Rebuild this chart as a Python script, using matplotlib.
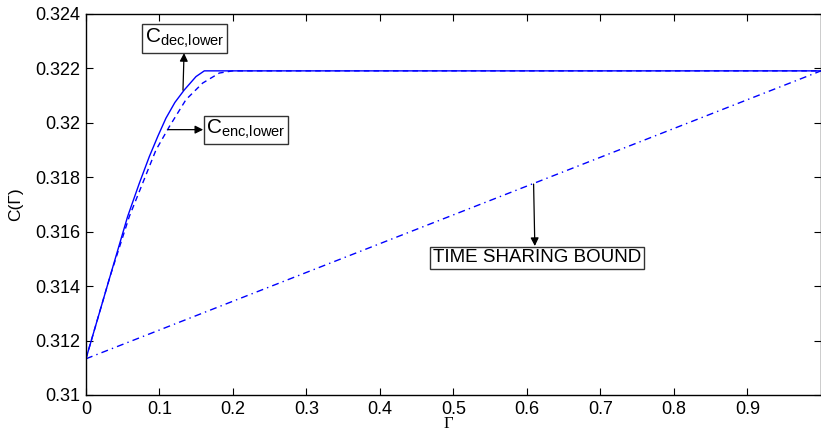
import matplotlib
matplotlib.use('Agg')
import matplotlib.pyplot as plt
import numpy as np

plt.rcParams['font.family'] = ['Liberation Sans', 'DejaVu Sans']
plt.rcParams['mathtext.fontset'] = 'custom'
plt.rcParams['mathtext.rm'] = 'Liberation Serif'
plt.rcParams['mathtext.sf'] = 'Liberation Sans'
plt.rcParams['mathtext.default'] = 'sf'

# C_dec,lower (solid)
gamma_dec = [0, 0.0327, 0.0567, 0.0726, 0.0862, 0.098, 0.1088, 0.121, 0.1338, 0.1497, 0.161, 1.0]
c_dec = [0.31133, 0.31435, 0.31656, 0.31778, 0.31876, 0.31952, 0.32017, 0.32075, 0.32121, 0.3217, 0.32191, 0.32191]

# C_enc,lower (dashed)
gamma_enc = [0, 0.0327, 0.059, 0.0771, 0.0952, 0.1134, 0.136, 0.1587, 0.1814, 0.1995, 1.0]
c_enc = [0.31133, 0.31435, 0.31656, 0.31778, 0.319, 0.31986, 0.32085, 0.32146, 0.32183, 0.32191, 0.32191]

# time sharing bound (dash-dot)
gamma_ts = [0, 1.0]
c_ts = [0.31133, 0.32191]

xticks = [0, 0.1, 0.2, 0.3, 0.4, 0.5, 0.6, 0.7, 0.8, 0.9]
yticks = [0.31, 0.312, 0.314, 0.316, 0.318, 0.32, 0.322, 0.324]

fig = plt.figure(figsize=(8.21, 4.33), dpi=100)
ax = fig.add_axes([0.1047, 0.0878, 0.8953, 0.8799])

ax.plot(gamma_dec, c_dec, color='#0000ff', lw=1.0, ls='-')
ax.plot(gamma_enc, c_enc, color='#0000ff', lw=1.0, ls=(0, (4, 3)))
ax.plot(gamma_ts, c_ts, color='#0000ff', lw=1.0, ls=(0, (5, 3, 1, 3)))

ax.set_xlim(0, 1.0)
ax.set_ylim(0.31, 0.324)
ax.set_xticks(xticks)
ax.set_yticks(yticks)
ax.set_xticklabels(['%g' % v for v in xticks])
ax.set_yticklabels(['%g' % v for v in yticks])
ax.tick_params(direction='in', length=5, width=0.8, labelsize=13, top=True, right=True, pad=4)
for s in ax.spines.values():
    s.set_linewidth(1.0)

ax.set_xlabel('Γ', family=['Liberation Serif'], fontsize=12)
ax.xaxis.set_label_coords(0.4925, -0.056)
ax.set_ylabel('C(Γ)', fontsize=12.5)
ax.yaxis.set_label_coords(-0.086, 0.5)

box = dict(boxstyle='square,pad=0.12', fc='white', ec='#333333', lw=1.0)
arr = dict(arrowstyle='<|-', color='black', lw=0.9, mutation_scale=12, shrinkA=0, shrinkB=0)

ax.annotate('C$_{dec{,}lower}$', xy=(0.132, 0.3212), xytext=(0.134, 0.3231),
            ha='center', va='center', fontsize=15, bbox=box, arrowprops=arr)
ax.annotate('C$_{enc{,}lower}$', xy=(0.1116, 0.31975), xytext=(0.2177, 0.31975),
            ha='center', va='center', fontsize=15, bbox=box, arrowprops=arr)
ax.annotate('TIME SHARING BOUND', xy=(0.609, 0.31775), xytext=(0.6136, 0.31504),
            ha='center', va='center', fontsize=13.5, bbox=dict(box, boxstyle='square,pad=0.15'),
            arrowprops=dict(arr, relpos=(0.49, 1.0)))

fig.savefig('out.png', dpi=100)
